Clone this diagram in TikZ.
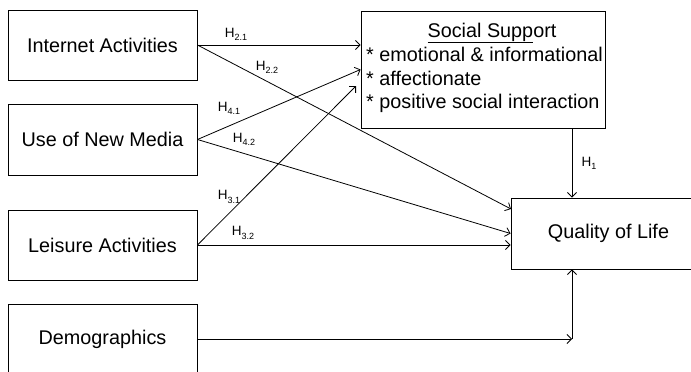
\documentclass[tikz,border=0pt]{standalone}
\usepackage{fontspec}
\setmainfont{Liberation Sans}
\usetikzlibrary{arrows.meta}
\tikzset{
    >={Straight Barb[length=4.5pt,width=9pt]},
    link/.style={draw,->,line width=0.8pt}
}
\newcommand{\hyp}[1]{H\raisebox{-0.45ex}{\fontsize{9}{9}\selectfont #1}}

\begin{document}
\begin{tikzpicture}[x=1pt,y=-1pt,
                    box/.style={draw,rectangle,line width=0.9pt,inner sep=0pt,
                                minimum width=189pt,minimum height=70pt,
                                font=\fontsize{19.8}{23.3}\selectfont},
                    txt/.style={inner sep=0pt,font=\fontsize{19.8}{23.3}\selectfont},
                    lbl/.style={inner sep=0pt,font=\fontsize{13.5}{13.5}\selectfont}]

\useasboundingbox (0,0) rectangle (691,372);

% Predictors
\node[box] (int) at (102.5,45) {Internet Activities};
\node[box,minimum height=71pt] (media) at (102.5,139.5) {Use of New Media};
\node[box] (leis) at (102.5,245) {Leisure Activities};
\node[box] (demo) at (102.5,339) {Demographics};

% Social support and quality of life
\node[box,minimum width=244pt,minimum height=117pt] (social) at (483,69.5) {};
\node[txt] (sstitle) at (492,33) {\underline{Social Supp}ort};
\node[txt,anchor=west,align=left] (sslist) at (366,80)
    {* emotional \& informational\\* affectionate\\* positive social interaction};
\node[box,minimum width=240pt,minimum height=71pt] (qol) at (631,233.5) {};
\node[txt] (qoltext) at (608.5,233.5) {Quality of Life};

% Free ends
\coordinate (corner) at (572,339);
\coordinate (qin) at (511,209);
\coordinate (sin) at (356,86);

% Paths
\draw[link] (int.east) -- (int.east -| social.west);
\draw[link] (int.east) -- (qin);
\draw[link] (media.east) -- (social.west);
\draw[link] (media.east) -- (qol.west);
\draw[link] (leis.east) -- (sin);
\draw[link] (leis.east) -- (leis.east -| qol.west);
\draw[link] (social.south -| corner) -- (qol.north -| corner);
\draw[link] (demo.east) -- (corner);
\draw[link] (corner) -- (qol.south -| corner);

% Hypotheses
\node[lbl] (h21) at (236,34) {\hyp{2.1}};
\node[lbl] (h22) at (267,67) {\hyp{2.2}};
\node[lbl] (h41) at (229,108) {\hyp{4.1}};
\node[lbl] (h42) at (244,139) {\hyp{4.2}};
\node[lbl] (h31) at (229,197) {\hyp{3.1}};
\node[lbl] (h32) at (243,233) {\hyp{3.2}};
\node[lbl] (h1) at (589,163) {\hyp{1}};

\end{tikzpicture}
\end{document}
